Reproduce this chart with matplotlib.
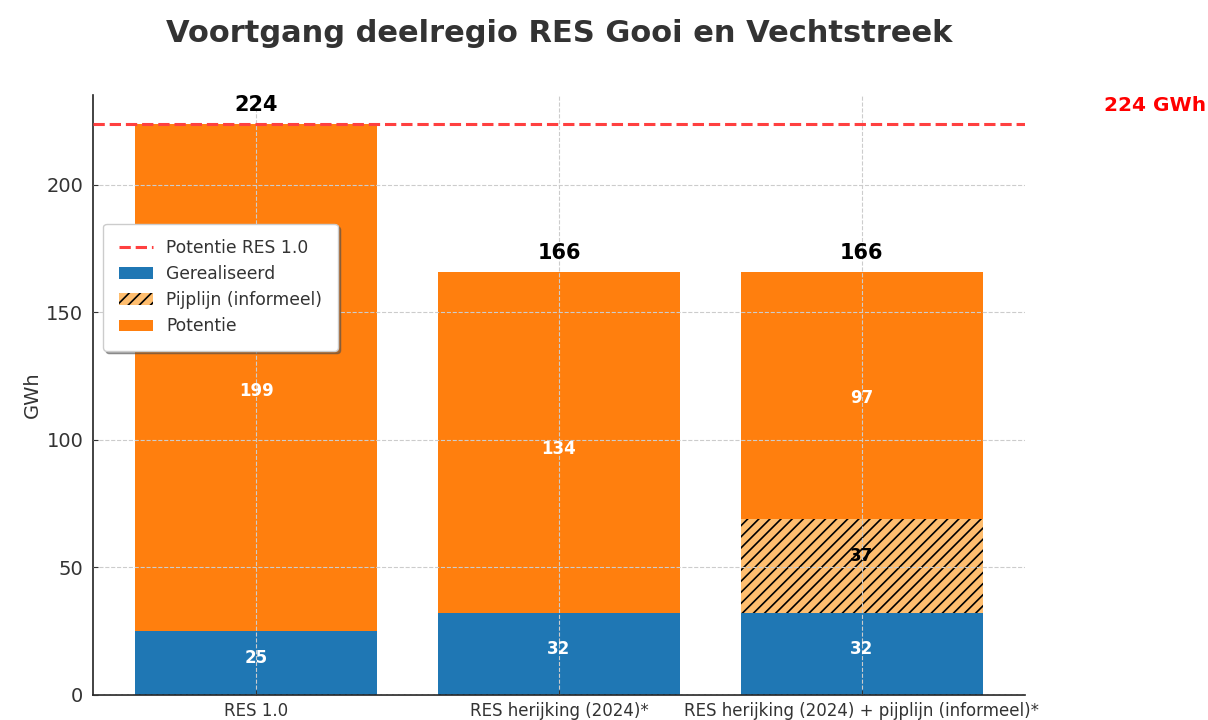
import matplotlib
matplotlib.use("Agg")
import matplotlib.pyplot as plt
import numpy as np

categories = ["RES 1.0", "RES herijking (2024)*", "RES herijking (2024) + pijplijn (informeel)*"]
gerealiseerd = [25, 32, 32]
pijplijn = [0, 0, 37]
potentie = [199, 134, 97]
target = 224

c_blue = "#1f77b4"
c_orange = "#ff7f0e"
c_light = "#ffbe6f"

fig = plt.figure(figsize=(12.08, 7.2), dpi=100)
ax = fig.add_axes([93/1208, 25/720, 932/1208, 600/720])

x = np.arange(len(categories))
g = np.array(gerealiseerd)
p = np.array(pijplijn)
t = np.array(potentie)

plt.rcParams["hatch.linewidth"] = 1.2
ax.bar(x, g, 0.8, color=c_blue, label="Gerealiseerd", zorder=1)
ax.bar(x, p, 0.8, bottom=g, color=c_light, hatch="///", edgecolor="black", linewidth=0, label="Pijplijn (informeel)", zorder=1)
ax.bar(x, t, 0.8, bottom=g + p, color=c_orange, label="Potentie", zorder=1)
ax.axhline(target, color="#ff4040", linestyle="--", linewidth=2.2, label="Potentie RES 1.0", zorder=3)

# small vertical nudges (data units) for the in-bar labels
shift_g = [2, 2, 2]
shift_p = [0, 0, 4]
shift_t = [-5.5, -2.5, -1]
for i in range(len(x)):
    ax.text(x[i], g[i] / 2 + shift_g[i], str(g[i]), ha="center", va="center", color="white", fontsize=12, fontweight="bold", zorder=4)
    if p[i] > 0:
        ax.text(x[i], g[i] + p[i] / 2 + shift_p[i], str(p[i]), ha="center", va="center", color="black", fontsize=12, fontweight="bold", zorder=4)
    ax.text(x[i], g[i] + p[i] + t[i] / 2 + shift_t[i], str(t[i]), ha="center", va="center", color="white", fontsize=12, fontweight="bold", zorder=4)
    tot = g[i] + p[i] + t[i]
    ax.text(x[i], tot + 3.5, str(tot), ha="center", va="bottom", color="black", fontsize=15, fontweight="bold", zorder=4)

ax.text(2.8, target + 3.5, f"{target} GWh", ha="left", va="bottom", color="red", fontsize=14.5, fontweight="bold", clip_on=False)

ax.set_ylim(0, target * 1.05)
ax.set_xticks(x)
ax.set_xticklabels(categories, fontsize=12)
ax.tick_params(axis="both", direction="in", colors="#333333")
ax.tick_params(axis="x", pad=5)
ax.tick_params(axis="y", labelsize=14, pad=7)
ax.set_ylabel("GWh", fontsize=14, color="#333333", labelpad=3)
ax.grid(True, linestyle="--", color="#cccccc", linewidth=0.8, zorder=2)
ax.set_axisbelow(False)
for s in ["top", "right"]:
    ax.spines[s].set_visible(False)
ax.spines["left"].set_linewidth(1.2)
ax.spines["bottom"].set_linewidth(1.2)
ax.spines["left"].set_color("#222222")
ax.spines["bottom"].set_color("#222222")

handles, labels = ax.get_legend_handles_labels()
leg = ax.legend(handles, labels, loc="upper left",
          bbox_to_anchor=(0.011, 0.785), borderaxespad=0, fontsize=12.3, shadow=True, framealpha=1,
          borderpad=0.9, labelspacing=0.47)
for txt in leg.get_texts():
    txt.set_color("#333333")
leg.set_zorder(5)

fig.text(559/1208, 1 - 34/720, "Voortgang deelregio RES Gooi en Vechtstreek", ha="center", va="center",
         fontsize=22, fontweight="bold", color="#333333")

fig.savefig("out.png", dpi=100)
